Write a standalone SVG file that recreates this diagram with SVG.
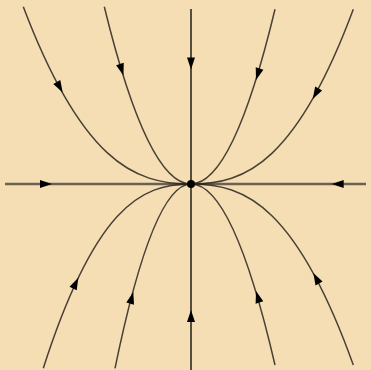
<svg xmlns="http://www.w3.org/2000/svg" xmlns:xlink="http://www.w3.org/1999/xlink" width="371" height="370" viewBox="0 0 371 370">
<defs>
<style>
.traj{fill:none;stroke:#2a2520;stroke-width:1.5;stroke-opacity:0.85}
.axis-v{fill:none;stroke:#000;stroke-width:1.3}
.axis-h{fill:none;stroke:#6b6150;stroke-width:2.6}
.ah{fill:#000}
</style>
<path id="ah" d="M0,0 L-12,-4 L-12,4 Z"/>
</defs>
<rect width="371" height="370" fill="#F5DEB3"/>
<g id="connectors">
<line class="axis-h" x1="5" y1="184" x2="366" y2="184"/>
<line class="axis-v" x1="191" y1="9" x2="191" y2="370"/>
<path class="traj" d="M191,184 C163.05,184 135.1,178.78 107.15,152.66 C79.2,126.54 51.25,80.58 23.3,6.7"/>
<path class="traj" d="M191,184 Q147.65,184 104.3,6.7"/>
<path class="traj" d="M191,184 Q233,184 275,9.3"/>
<path class="traj" d="M191,184 C218.05,184 245.1,178.85 272.15,153.12 C299.2,127.38 326.25,82.09 353.3,9.3"/>
<path class="traj" d="M191,184 Q233,184 275,365"/>
<path class="traj" d="M191,184 C218.05,184 245.1,189.33 272.15,216 C299.2,242.66 326.25,289.58 353.3,365"/>
<path class="traj" d="M191,184 C166.38,184 141.77,189.43 117.15,216.58 C92.53,243.73 67.92,291.51 43.3,368.3"/>
<path class="traj" d="M191,184 Q153,184 115,368.3"/>
<use class="ah" xlink:href="#ah" transform="translate(62.7,92.5) rotate(60.5)"/>
<use class="ah" xlink:href="#ah" transform="translate(123.5,75.5) rotate(72.6)"/>
<use class="ah" xlink:href="#ah" transform="translate(256,80) rotate(107.3)"/>
<use class="ah" xlink:href="#ah" transform="translate(312.7,99) rotate(119.8)"/>
<use class="ah" xlink:href="#ah" transform="translate(256,291) rotate(-106.7)"/>
<use class="ah" xlink:href="#ah" transform="translate(313.3,273) rotate(-118.7)"/>
<use class="ah" xlink:href="#ah" transform="translate(78.3,277.7) rotate(-64.3)"/>
<use class="ah" xlink:href="#ah" transform="translate(133.3,292) rotate(-74.8)"/>
<use class="ah" xlink:href="#ah" transform="translate(191,69.5) rotate(90)"/>
<use class="ah" xlink:href="#ah" transform="translate(191,310) rotate(-90)"/>
<use class="ah" xlink:href="#ah" transform="translate(52,184)"/>
<use class="ah" xlink:href="#ah" transform="translate(331.7,184) rotate(180)"/>
</g>
<g id="equilibrium">
<circle cx="191" cy="184" r="4" fill="#000"/>
</g>
</svg>
